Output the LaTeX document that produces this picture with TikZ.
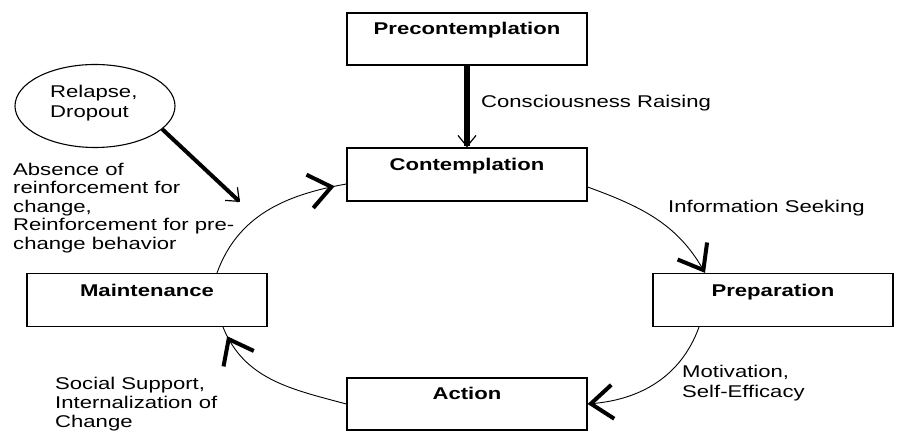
\documentclass[tikz,border=0pt]{standalone}
\usepackage{fontspec}
\usetikzlibrary{arrows.meta,shapes.geometric,decorations.markings}
\newfontfamily\labfont[FakeStretch=1.3]{Liberation Sans}
\begin{document}
\begin{tikzpicture}[x=1pt,y=1pt,
  lab/.style={font=\labfont\fontsize{17}{18.5}\selectfont, inner sep=0pt, align=left},
  box/.style={draw, line width=1.2pt, minimum width=240pt, inner xsep=0pt, inner ysep=0pt,
              text height=23pt, text depth=30pt, font=\labfont\bfseries\fontsize{17}{18.5}\selectfont},
  cycarc/.style={line width=0.9pt},
  bigbarb/.tip={Straight Barb[length=22pt,width=34pt,line width=4pt]},
  smallbarb/.tip={Straight Barb[length=11pt,width=18pt,line width=1.2pt]},
]
\useasboundingbox (0,0) rectangle (906,431);
% stage boxes
\node[box, text height=22pt] (pre) at (467,392) {Precontemplation};
\node[box] (con) at (467,256.5) {Contemplation};
\node[box] (prep) at (773,131) {Preparation};
\node[box, text height=22pt] (act) at (467,27) {Action};
\node[box] (mnt) at (147,131) {Maintenance};
% relapse ellipse
\node[draw, ellipse, line width=1.1pt, minimum width=160pt, minimum height=83pt, inner sep=0pt] (rel) at (95,325) {};
\node[lab, anchor=north west, font=\labfont\fontsize{17}{20}\selectfont] (rt) at (50,346.4) {Relapse,\\Dropout};
% labels
\node[lab, anchor=base west] (cr) at (481,323) {Consciousness Raising};
\node[lab, anchor=base west] (is) at (668,218) {Information Seeking};
\node[lab, anchor=north west, font=\labfont\fontsize{17}{20}\selectfont] (mo) at (682,66.4) {Motivation,\\Self-Efficacy};
\node[lab, anchor=north west] (ab) at (13,268.4) {Absence of\\reinforcement for\\change,\\Reinforcement for pre-\\change behavior};
\node[lab, anchor=north west, font=\labfont\fontsize{17}{19}\selectfont] (ss) at (55,54.4) {Social Support,\\Internalization of\\Change};
% thick arrows
\draw[line width=6pt, -{smallbarb}] (pre.south) -- (con.north);
\coordinate (relend) at (240,229);
\draw[line width=4pt, -{smallbarb}] (rel.-19) -- (relend);
% cycle
\draw[cycarc, -{bigbarb}] ([yshift=-12.5pt]con.east) to[out=-20,in=120] ([xshift=-68pt]prep.north);
\draw[cycarc, -{bigbarb}] ([xshift=-74pt]prep.south) to[out=-110,in=5] (act.east);
\draw[cycarc, postaction={decorate}, decoration={markings, mark=at position -10pt with {\arrow{bigbarb}}}]
  (act.west) to[out=165,in=-68] ([xshift=76pt]mnt.south);
\draw[cycarc, postaction={decorate}, decoration={markings, mark=at position -12pt with {\arrow{bigbarb}}}]
  ([xshift=70pt]mnt.north) to[out=70,in=190] ([yshift=-9.5pt]con.west);
\end{tikzpicture}
\end{document}
